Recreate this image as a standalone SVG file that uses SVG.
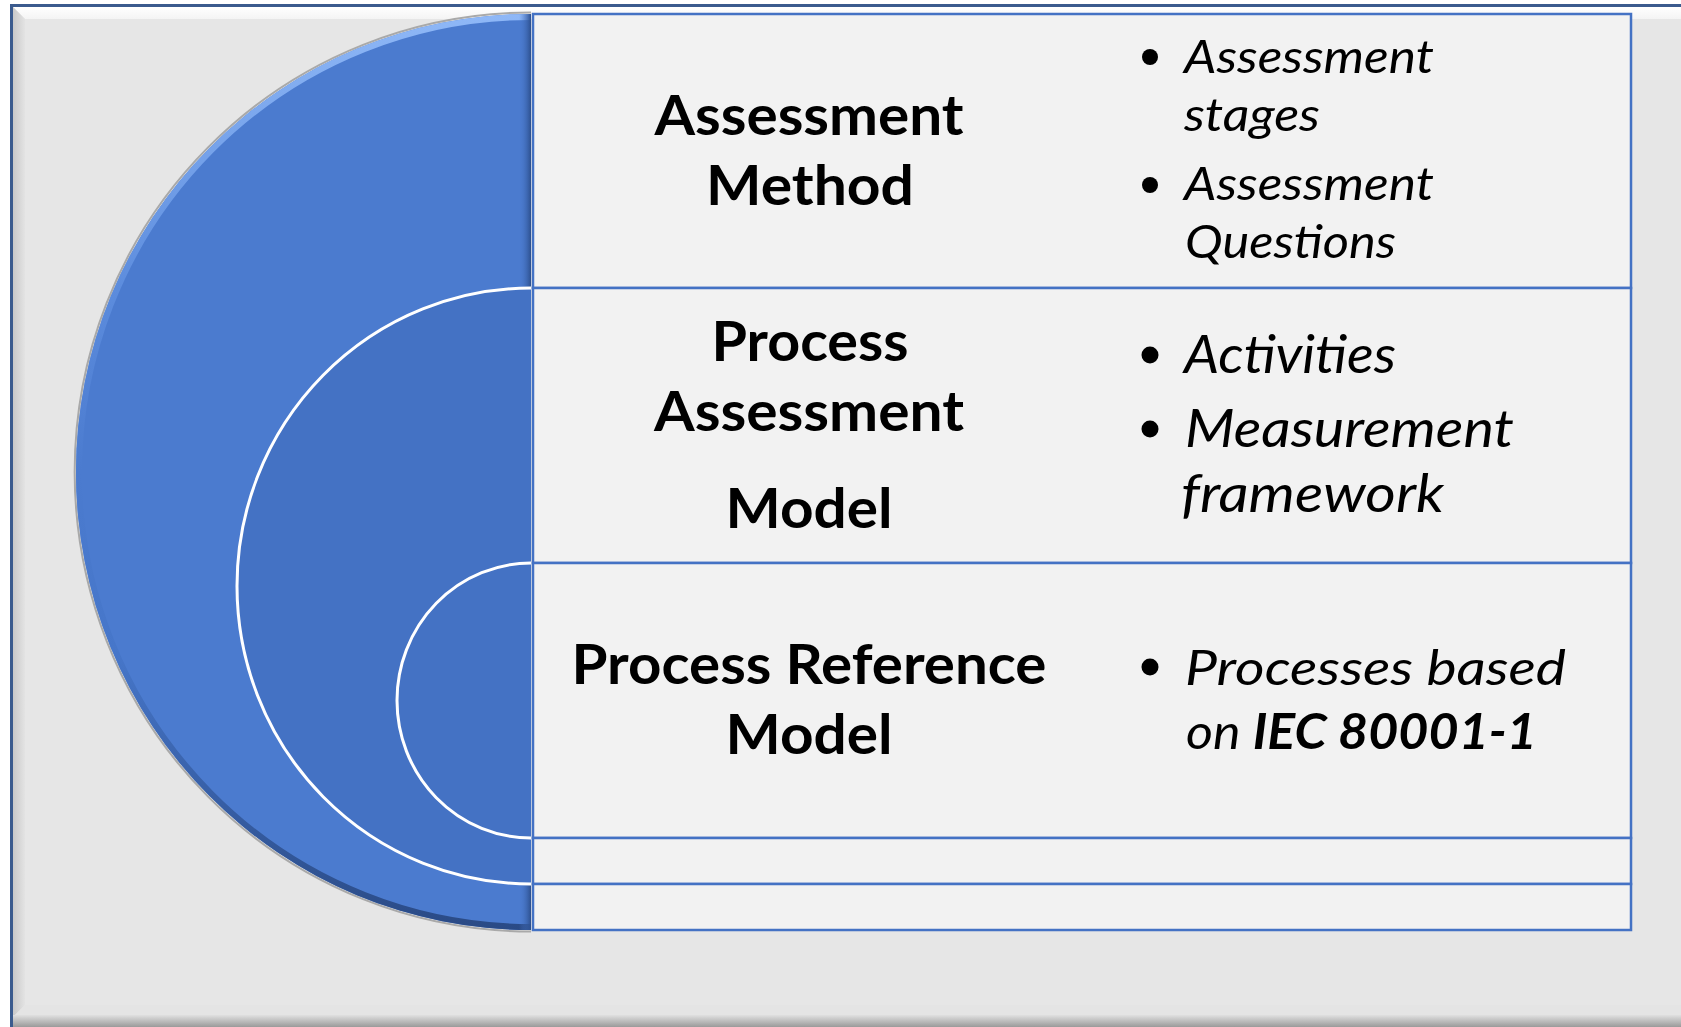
<svg xmlns="http://www.w3.org/2000/svg" width="1681" height="1027" viewBox="0 0 1681 1027">
<style>
.cell{fill:#f2f2f2;stroke:#4472c4;stroke-width:2.5}
.lbl{font-family:Lato,"Open Sans","DejaVu Sans",sans-serif;font-weight:700;font-size:56px;fill:#000;text-anchor:middle}
.itm{font-family:Lato,"Open Sans","DejaVu Sans",sans-serif;font-style:italic;fill:#000}
.dot{fill:#000}
.ring{stroke:#ffffff;stroke-width:3;fill:#4472c4}
</style>
<defs>
<linearGradient id="topBev" x1="0" y1="0" x2="0" y2="1">
<stop offset="0" stop-color="#ffffff"/><stop offset="1" stop-color="#f4f4f4"/>
</linearGradient>
<linearGradient id="leftBev" x1="0" y1="0" x2="1" y2="0">
<stop offset="0" stop-color="#c9c9c9"/><stop offset="1" stop-color="#e3e3e3"/>
</linearGradient>
<linearGradient id="botBev" x1="0" y1="0" x2="0" y2="1">
<stop offset="0" stop-color="#e0e0e0"/><stop offset="1" stop-color="#9a9a9a"/>
</linearGradient>
<linearGradient id="arcEdge" gradientUnits="userSpaceOnUse" x1="0" y1="14" x2="0" y2="930">
<stop offset="0" stop-color="#8fb8f7"/><stop offset="0.3" stop-color="#5c8cdd"/><stop offset="0.5" stop-color="#4b7bcf"/><stop offset="0.7" stop-color="#4676c9"/><stop offset="1" stop-color="#2a4a85"/>
</linearGradient>
<linearGradient id="rightEdge" x1="0" y1="0" x2="1" y2="0">
<stop offset="0" stop-color="#4b7bcf" stop-opacity="0"/><stop offset="1" stop-color="#2c4f8e"/>
</linearGradient>
<clipPath id="discClip"><path d="M531,14 A455,458 0 0 0 531,930 Z"/></clipPath>
</defs>

<g id="frame">
<rect x="0" y="0" width="1681" height="1027" fill="#ffffff"/>
<rect x="11.5" y="5.5" width="1700" height="1040" fill="#e6e6e6" stroke="#3b5b8e" stroke-width="3"/>
<polygon points="13,7 1681,7 1681,19 25,19" fill="url(#topBev)"/>
<polygon points="13,7 25,19 25,1005 13,1017" fill="url(#leftBev)"/>
<polygon points="13,1017 25,1005 1681,1005 1681,1017" fill="#e4e4e4"/>
<rect x="13" y="1015" width="1668" height="12" fill="url(#botBev)"/>
</g>

<g id="disc-outer">
<path d="M531,12.5 A456.5,459.5 0 0 0 531,931.5" fill="none" stroke="#a9a9a9" stroke-width="2"/>
<path d="M531,14 A455,458 0 0 0 531,930 Z" fill="#4b7bcf"/>
<g clip-path="url(#discClip)">
<path d="M531,14 A455,458 0 0 0 531,930" fill="none" stroke="url(#arcEdge)" stroke-width="12"/>
<rect x="519" y="14" width="12" height="916" fill="url(#rightEdge)"/>
</g>
</g>

<g id="disc-middle">
<path class="ring" d="M531,288 A294,298 0 0 0 531,884"/>
</g>

<g id="disc-inner">
<path class="ring" d="M531,563 A134,137.5 0 0 0 531,838"/>
</g>

<g id="table">
<rect class="cell" x="533" y="14" width="1098" height="274"/>
<rect class="cell" x="533" y="288" width="1098" height="275"/>
<rect class="cell" x="533" y="563" width="1098" height="275"/>
<rect class="cell" x="533" y="838" width="1098" height="46"/>
<rect class="cell" x="533" y="884" width="1098" height="46"/>
</g>

<g id="row-assessment-method">
<text class="lbl" x="809" y="135" textLength="309" lengthAdjust="spacingAndGlyphs">Assessment</text>
<text class="lbl" x="810" y="205" textLength="208" lengthAdjust="spacingAndGlyphs">Method</text>
<circle class="dot" cx="1150" cy="57" r="8"/>
<circle class="dot" cx="1150" cy="185" r="8"/>
<g class="itm" font-size="47">
<text x="1184" y="73" textLength="250" lengthAdjust="spacingAndGlyphs">Assessment</text>
<text x="1184" y="131" textLength="136" lengthAdjust="spacingAndGlyphs">stages</text>
<text x="1184" y="200" textLength="250" lengthAdjust="spacingAndGlyphs">Assessment</text>
<text x="1185" y="258" textLength="211" lengthAdjust="spacingAndGlyphs">Questions</text>
</g>
</g>

<g id="row-process-assessment-model">
<text class="lbl" x="810" y="361" textLength="197" lengthAdjust="spacingAndGlyphs">Process</text>
<text class="lbl" x="809" y="431" textLength="310" lengthAdjust="spacingAndGlyphs">Assessment</text>
<text class="lbl" x="809" y="528" textLength="167" lengthAdjust="spacingAndGlyphs">Model</text>
<circle class="dot" cx="1150" cy="355" r="8.5"/>
<circle class="dot" cx="1150" cy="429" r="8.5"/>
<g class="itm" font-size="52">
<text x="1184" y="373" textLength="212" lengthAdjust="spacingAndGlyphs">Activities</text>
<text x="1185" y="447" textLength="329" lengthAdjust="spacingAndGlyphs">Measurement</text>
<text x="1181" y="512" textLength="263" lengthAdjust="spacingAndGlyphs">framework</text>
</g>
</g>

<g id="row-process-reference-model">
<text class="lbl" x="809" y="684" textLength="475" lengthAdjust="spacingAndGlyphs">Process Reference</text>
<text class="lbl" x="809" y="754" textLength="167" lengthAdjust="spacingAndGlyphs">Model</text>
<circle class="dot" cx="1150" cy="667" r="8.5"/>
<g class="itm" font-size="49">
<text x="1185" y="685" textLength="381" lengthAdjust="spacingAndGlyphs">Processes based</text>
<text x="1186" y="749" textLength="351" lengthAdjust="spacingAndGlyphs">on <tspan font-weight="700">IEC 80001-1</tspan></text>
</g>
</g>
</svg>
